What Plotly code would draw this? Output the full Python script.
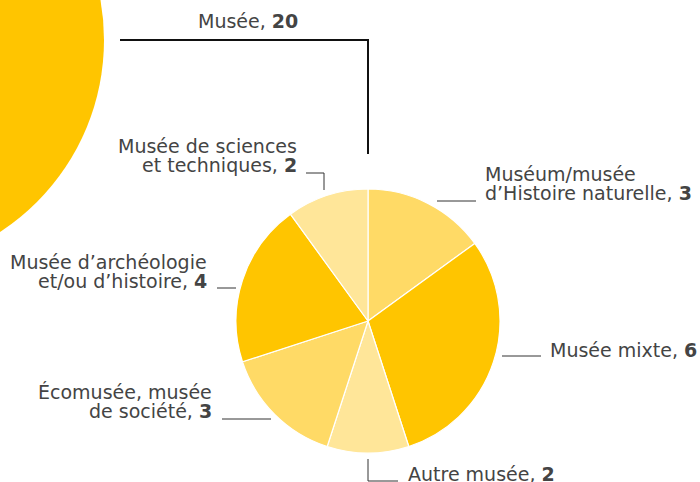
import plotly.graph_objects as go

# ---- data ----
parent_label = "Musée"
parent_value = 20

categories = [
    "Muséum/musée\nd’Histoire naturelle",
    "Musée mixte",
    "Autre musée",
    "Écomusée, musée\nde société",
    "Musée d’archéologie\net/ou d’histoire",
    "Musée de sciences\net techniques",
]
values = [3, 6, 2, 3, 4, 2]
slice_colors = ["#FFDA66", "#FFC500", "#FFE699", "#FFDA66", "#FFC500", "#FFE699"]

# ---- layout geometry (pixels) ----
W, H = 700, 482
cx, cy, r = 368, 321, 132
TXT = "#444444"
FONT = "DejaVu Sans"
FS = 19

fig = go.Figure()

fig.add_trace(go.Pie(
    values=values,
    labels=[c.replace("\n", " ") for c in categories],
    sort=False,
    direction="clockwise",
    rotation=0,
    marker=dict(colors=slice_colors, line=dict(color="white", width=1.2)),
    textinfo="none",
    hoverinfo="label+value",
    showlegend=False,
    domain=dict(x=[(cx - r) / W, (cx + r) / W], y=[1 - (cy + r) / H, 1 - (cy - r) / H]),
))

shapes = []
# big parent circle (partially visible)
bcx, bcy, br = -125, 40, 229
shapes.append(dict(type="circle", xref="x", yref="y", x0=bcx - br, x1=bcx + br,
                   y0=bcy - br, y1=bcy + br, fillcolor="#FFC500", line=dict(width=0), layer="below"))
# connector from parent to pie
shapes.append(dict(type="path", xref="x", yref="y", path="M 120 40 L 368 40 L 368 154",
                   line=dict(color="#111111", width=2)))

# leader lines
leaders = [
    "M 437 201 L 476 201",
    "M 502 356 L 541 356",
    "M 368 459 L 368 481 L 398 481",
    "M 222 419 L 271 419",
    "M 217 288 L 236 288",
    "M 306 173 L 324 173 L 324 190",
]
for p in leaders:
    shapes.append(dict(type="path", xref="x", yref="y", path=p, line=dict(color="#333333", width=1)))

# label anchor: (x, y of first line, xanchor)
label_pos = [
    (483, 174, "left"),
    (548, 350, "left"),
    (406, 474, "left"),
    (214, 392, "right"),
    (209, 262, "right"),
    (299, 146, "right"),
]
LINE_GAP = 19

annotations = []
for cat, val, (lx, ly, anc) in zip(categories, values, label_pos):
    lines = cat.split("\n")
    for i, ln in enumerate(lines):
        txt = ln
        if i == len(lines) - 1:
            txt = f"{ln}, <b>{val}</b>"
        annotations.append(dict(x=lx, y=ly + i * LINE_GAP, xref="x", yref="y", text=txt,
                                showarrow=False, xanchor=anc, yanchor="middle",
                                font=dict(family=FONT, size=FS, color=TXT)))

annotations.append(dict(x=248, y=21, xref="x", yref="y", text=f"{parent_label}, <b>{parent_value}</b>",
                        showarrow=False, xanchor="center", yanchor="middle",
                        font=dict(family=FONT, size=FS, color=TXT)))

fig.update_layout(
    width=W, height=H,
    margin=dict(l=0, r=0, t=0, b=0),
    paper_bgcolor="white", plot_bgcolor="white",
    xaxis=dict(range=[0, W], visible=False, fixedrange=True),
    yaxis=dict(range=[H, 0], visible=False, fixedrange=True),
    shapes=shapes,
    annotations=annotations,
    showlegend=False,
)

fig.write_html("out.html",
               config={"displayModeBar": False},
               post_script="document.body.style.margin='0';document.body.style.overflow='hidden';")
